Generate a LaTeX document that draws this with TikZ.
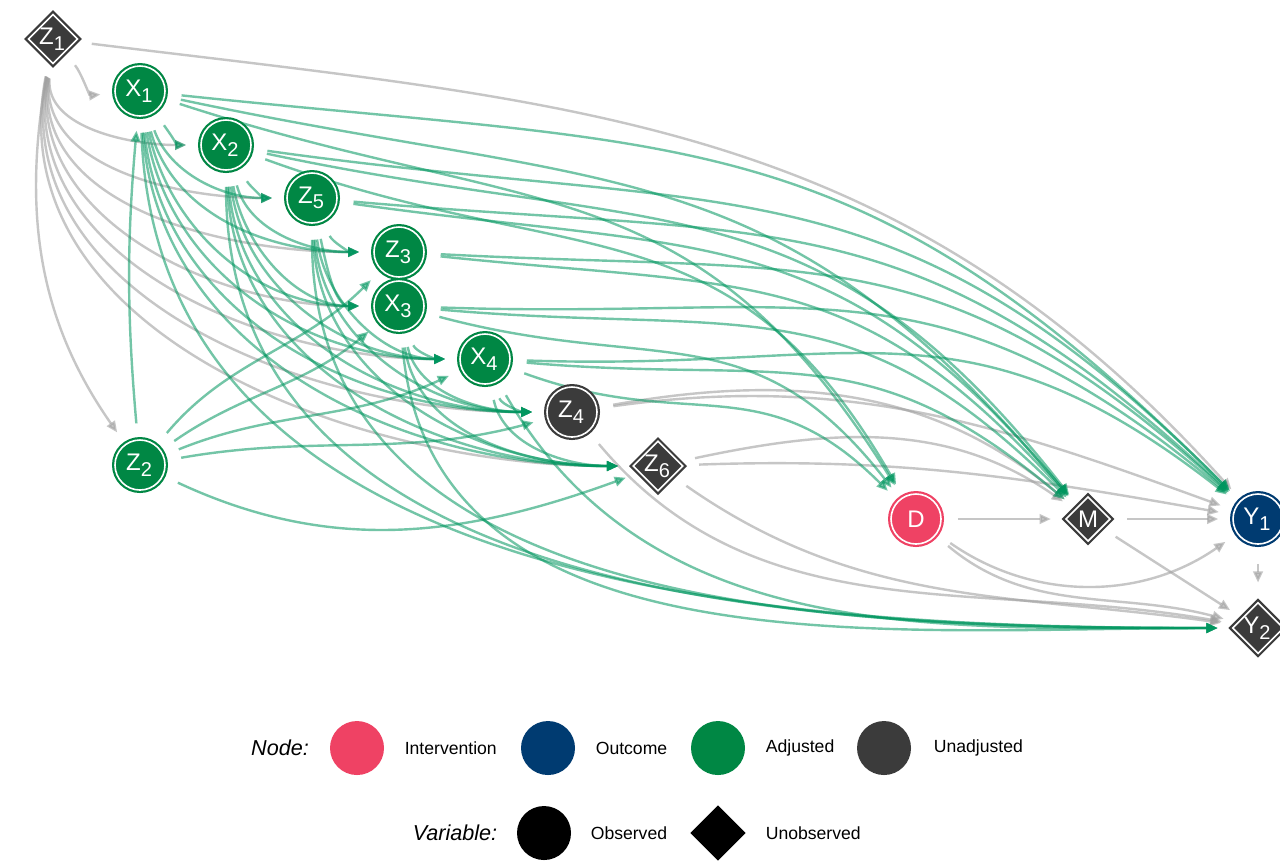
\documentclass[tikz,border=0pt]{standalone}
\usepackage{fontspec}
\setmainfont{Liberation Sans}
\usetikzlibrary{shapes.geometric,arrows.meta}
\pgfdeclarelayer{edgelayer}
\pgfsetlayers{edgelayer,main}
\definecolor{cInt}{RGB}{239,66,100}
\definecolor{cOut}{RGB}{0,59,113}
\definecolor{cAdj}{RGB}{0,135,68}
\definecolor{cUna}{RGB}{59,59,59}
\definecolor{cGE}{RGB}{0,150,95}
\definecolor{cGr}{RGB}{160,160,160}
\newcommand\nodelabfont{\fontsize{6}{6}\selectfont}
\newcommand\legfont{\fontsize{4.4}{4.5}\selectfont}
\newcommand\leghead{\fontsize{5.4}{5.5}\selectfont\itshape}
\begin{document}
\begin{tikzpicture}[x=0.25pt,y=0.25pt,
  nd/.style={circle, minimum size=12.5pt, inner sep=0pt, fill=#1, draw=white, line width=0.4pt,
    preaction={draw=#1, line width=1.5pt}, text=white, font=\nodelabfont},
  dm/.style={diamond, aspect=1, minimum size=11.2pt, inner sep=0pt, fill=#1, draw=white, line width=0.4pt,
    preaction={draw=#1, line width=1.5pt}, text=white, font=\nodelabfont},
  ge/.style={draw=cGE, opacity=0.55, line width=0.6pt, -{Triangle[length=2.8pt,width=2.4pt]},
    shorten >=3.5pt, shorten <=4pt},
  gy/.style={draw=cGr, opacity=0.6, line width=0.6pt, -{Triangle[length=2.8pt,width=2.4pt]},
    shorten >=3.5pt, shorten <=4pt},
  legc/.style={circle, minimum size=13.5pt, inner sep=0pt, fill=#1},
  legt/.style={anchor=west, font=\legfont, inner sep=0pt}
]
\useasboundingbox (0,0) rectangle (1280,-860);

% nodes
\node[dm=cUna] (Z1) at (53,-39) {Z\textsubscript{1}};
\node[nd=cAdj] (X1) at (140,-91) {X\textsubscript{1}};
\node[nd=cAdj] (X2) at (226,-145) {X\textsubscript{2}};
\node[nd=cAdj] (Z5) at (312,-198) {Z\textsubscript{5}};
\node[nd=cAdj] (Z3) at (399,-252) {Z\textsubscript{3}};
\node[nd=cAdj] (X3) at (399,-306) {X\textsubscript{3}};
\node[nd=cAdj] (X4) at (485,-359) {X\textsubscript{4}};
\node[nd=cUna] (Z4) at (572,-412) {Z\textsubscript{4}};
\node[dm=cUna] (Z6) at (658,-466) {Z\textsubscript{6}};
\node[nd=cAdj] (Z2) at (140,-465) {Z\textsubscript{2}};
\node[nd=cInt] (D) at (916,-519) {D};
\node[dm=cUna] (M) at (1088,-519) {M};
\node[nd=cOut] (Y1) at (1258,-519) {Y\textsubscript{1}};
\node[dm=cUna] (Y2) at (1258,-628) {Y\textsubscript{2}};

\begin{pgfonlayer}{edgelayer}
\fill[white] (0,0) rectangle (1280,-860);
% gray edges
\foreach \s/\t/\o/\i in {Z1/X1/-50/185, Z1/X2/-95/180, Z1/Z5/-96/180, Z1/Z3/-97/180,
  Z1/X3/-98/180, Z1/X4/-99/180, Z1/Z4/-100/180, Z1/Z6/-101/180, Z1/Z2/-100/125,
  Z4/Y1/8/160, Z4/M/10/140, Z4/Y2/-50/170, Z6/M/12/145, Z6/Y1/2/170, Z6/Y2/-35/172,
  D/Y1/-35/-145, D/Y2/-40/165}
  \draw[gy] (\s) to[out=\o,in=\i] (\t);
\draw[gy] (Z1) to[out=-7,in=132,looseness=1.05] (Y1);
\draw[gy] (D) -- (M);
\draw[gy] (M) -- (Y1);
\draw[gy] (M) -- (Y2);
\draw[gy, shorten >=4.75pt, shorten <=4.75pt] (Y1) -- (Y2);
% green edges to the right
\foreach \s/\t/\o/\i in {X1/D/-18/122, X1/M/-12/130, X1/Y1/-6/135,
  X2/D/-20/120, X2/M/-12/128, X2/Y1/-8/135, Z5/M/-8/130, Z5/Y1/-5/137,
  Z3/M/-6/132, Z3/Y1/-3/138, X3/D/-15/128, X3/M/-5/135, X3/Y1/-2/140,
  X4/D/-20/135, X4/M/-5/140, X4/Y1/-2/142}
  \draw[ge] (\s) to[out=\o,in=\i,looseness=1.2] (\t);
% green edges downwards
\foreach \s/\t/\o/\i in {X1/X2/-55/180, X1/Z5/-70/180, X1/Z3/-75/180, X1/X3/-78/180,
  X1/X4/-81/180, X1/Z4/-84/180, X1/Z6/-86/180, X1/Y2/-88/180,
  X2/Z5/-60/180, X2/Z3/-75/180, X2/X3/-80/180, X2/X4/-83/180, X2/Z4/-86/180,
  X2/Z6/-88/180, X2/Y2/-90/180,
  Z5/Z3/-65/180, Z5/X3/-78/180, Z5/X4/-83/180, Z5/Z4/-86/180, Z5/Z6/-88/180, Z5/Y2/-90/180,
  X3/X4/-70/180, X3/Z4/-78/180, X3/Z6/-82/180, X3/Y2/-85/180,
  X4/Z4/-70/180, X4/Z6/-78/180, X4/Y2/-60/180,
  Z2/X1/95/-95, Z2/Z3/50/-135, Z2/X3/35/-140, Z2/X4/22/-155, Z2/Z4/10/-165, Z2/Z6/-25/-160}
  \draw[ge] (\s) to[out=\o,in=\i] (\t);
\end{pgfonlayer}

% legend
\node[font=\leghead, inner sep=0pt] (lgN) at (280,-748) {Node:};
\node[legc=cInt] (lgI) at (357,-748) {};
\node[legt] (lgIt) at (404,-748) {Intervention};
\node[legc=cOut] (lgO) at (548,-748) {};
\node[legt] (lgOt) at (595,-748) {Outcome};
\node[legc=cAdj] (lgA) at (718,-748) {};
\node[legt] (lgAt) at (765,-748) {Adjusted};
\node[legc=cUna] (lgU) at (884,-748) {};
\node[legt] (lgUt) at (933,-748) {Unadjusted};
\node[font=\leghead, inner sep=0pt] (lgV) at (455,-833) {Variable:};
\node[legc=black] (lgOb) at (544,-833) {};
\node[legt] (lgObt) at (590,-833) {Observed};
\node[diamond, aspect=1, minimum size=14pt, inner sep=0pt, fill=black] (lgUn) at (718,-833) {};
\node[legt] (lgUnt) at (765,-833) {Unobserved};
\end{tikzpicture}
\end{document}
